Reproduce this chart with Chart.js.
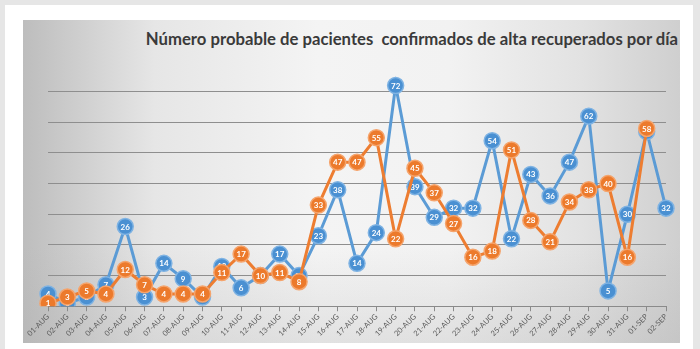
<!DOCTYPE html>
<html>
<head>
<meta charset="utf-8">
<script src="https://cdn.jsdelivr.net/npm/chart.js@4.4.0/dist/chart.umd.min.js"></script>
<style>
  html, body { margin: 0; padding: 0; }
  body { width: 700px; height: 349px; background: #e6e6e6; position: relative; overflow: hidden; }
  #card { position: absolute; left: 5px; top: 5px; width: 688px; height: 344px; background: #ffffff; }
  #panel {
    position: absolute; left: 23px; top: 20px; width: 657px; height: 323px;
    background:
      linear-gradient(to bottom, rgba(255,255,255,0) 70%, rgba(170,170,170,0.25) 100%),
      linear-gradient(to right, #bdbdbd 0%, #e6e6e6 20%, #f4f4f4 45%, #f2f2f2 65%, #e2e2e2 85%, #cfcfcf 100%);
  }
  #title {
    position: absolute; right: 22px; top: 29px;
    font: bold 16.7px Lato, "Open Sans", sans-serif; color: #3a3a3a; white-space: pre;
  }
  #myChart { position: absolute; left: 0; top: 0; }
</style>
</head>
<body>
<div id="card"></div>
<div id="panel"></div>
<div id="title">Número probable de pacientes  confirmados de alta recuperados por día</div>
<canvas id="myChart" width="700" height="349"></canvas>
<script>
var dias = ['01-AUG','02-AUG','03-AUG','04-AUG','05-AUG','06-AUG','07-AUG','08-AUG','09-AUG','10-AUG',
            '11-AUG','12-AUG','13-AUG','14-AUG','15-AUG','16-AUG','17-AUG','18-AUG','19-AUG','20-AUG',
            '21-AUG','22-AUG','23-AUG','24-AUG','25-AUG','26-AUG','27-AUG','28-AUG','29-AUG','30-AUG',
            '31-AUG','01-SEP','02-SEP'];
var azul = [4,1,3,7,26,3,14,9,3,13,6,10,17,10,23,38,14,24,72,39,29,32,32,54,22,43,36,47,62,5,30,57,32];
var naranja = [1,3,5,4,12,7,4,4,4,11,17,10,11,8,33,47,47,55,22,45,37,27,16,18,51,28,21,34,38,40,16,58,null];

// numbers inside the circles
var etiquetas = {
    id: 'etiquetas',
    afterDatasetDraw: function(chart, args){
        var ctx = chart.ctx;
        var ds = chart.data.datasets[args.index];
        ctx.save();
        ctx.fillStyle = '#ffffff';
        ctx.font = 'bold 8px Lato, sans-serif';
        ctx.textAlign = 'center';
        ctx.textBaseline = 'middle';
        args.meta.data.forEach(function(pt, i){
            var v = ds.data[i];
            if (v == null) return;
            ctx.fillText(v, pt.x, pt.y + 0.5);
        });
        ctx.restore();
    }
};

var ctx = document.getElementById('myChart').getContext('2d');
var myChart = new Chart(ctx, {
    type: 'line',
    data: {
        labels: dias,
        datasets: [{
            data: azul,
            order: 2,
            borderColor: '#5b9bd5',
            backgroundColor: '#4a90d2',
            pointBackgroundColor: '#4a90d2',
            pointBorderColor: '#7fb3e3',
            borderWidth: 3,
            pointRadius: 8,
            pointBorderWidth: 1.5,
            tension: 0
        }, {
            data: naranja,
            order: 1,
            borderColor: '#ed7d31',
            backgroundColor: '#ec7a2c',
            pointBackgroundColor: '#ec7a2c',
            pointBorderColor: '#f5a46c',
            borderWidth: 3,
            pointRadius: 8,
            pointBorderWidth: 1.5,
            tension: 0
        }]
    },
    options: {
        responsive: false,
        animation: false,
        layout: { padding: { left: 48, right: 34, top: 61, bottom: 10 } },
        plugins: { legend: { display: false }, tooltip: { enabled: false } },
        scales: {
            x: {
                offset: false,
                grid: { drawOnChartArea: false, color: '#8a8a8a', tickLength: 5 },
                border: { color: '#8a8a8a', width: 1 },
                ticks: {
                    autoSkip: false, maxRotation: 45, minRotation: 45, padding: 1,
                    color: '#5a5a5a', font: { size: 7.5, family: 'Lato, sans-serif' }
                }
            },
            y: {
                min: 0, max: 80,
                ticks: { display: false, stepSize: 10 },
                border: { display: false },
                grid: {
                    drawTicks: false,
                    color: function(c){ return (c.tick.value == 0 || c.tick.value == 80) ? 'rgba(0,0,0,0)' : '#8e8e8e'; }
                }
            }
        }
    },
    plugins: [etiquetas]
});
</script>
</body>
</html>
